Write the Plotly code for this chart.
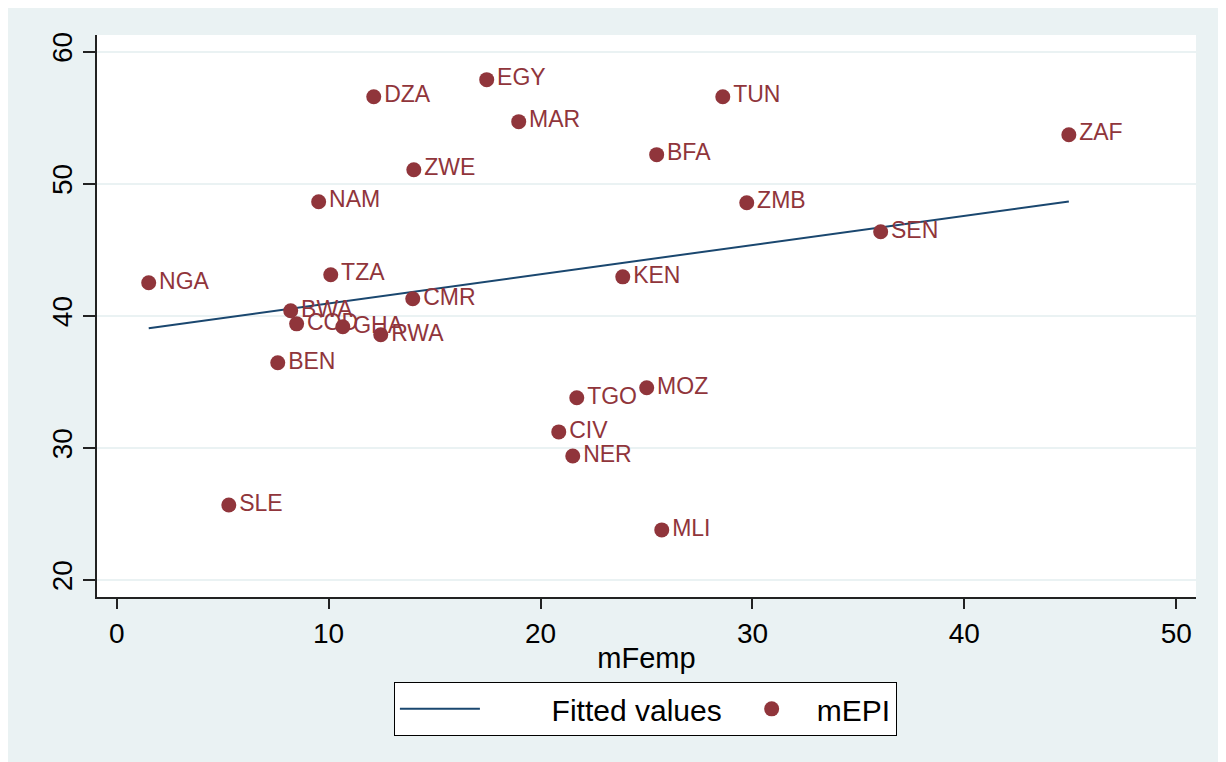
import numpy as np
import plotly.graph_objects as go

countries = ["NGA", "SLE", "BEN", "BWA", "COD", "NAM", "GHA", "TZA", "DZA", "RWA",
             "ZWE", "CMR", "EGY", "MAR", "CIV", "NER", "TGO", "KEN", "MOZ", "BFA",
             "MLI", "TUN", "ZMB", "SEN", "ZAF"]
mFemp = [1.51, 5.29, 7.60, 8.21, 8.49, 9.53, 10.67, 10.10, 12.13, 12.46,
         14.02, 13.97, 17.46, 18.97, 20.86, 21.52, 21.71, 23.88, 25.01, 25.48,
         25.72, 28.60, 29.73, 36.05, 44.93]
mEPI = [42.50, 25.68, 36.44, 40.38, 39.39, 48.64, 39.17, 43.11, 56.59, 38.56,
        51.06, 41.29, 57.88, 54.70, 31.21, 29.39, 33.79, 42.95, 34.55, 52.20,
        23.79, 56.59, 48.56, 46.36, 53.71]
x_ticks = [0, 10, 20, 30, 40, 50]
y_ticks = [20, 30, 40, 50, 60]
legend_names = ["Fitted values", "mEPI"]

NAVY = "#1a476f"
MAROON = "#90353b"
BG = "#eaf2f3"
FONT = "Liberation Sans, Arial, sans-serif"
NBSP = "\u00a0"

xa = np.array(mFemp)
ya = np.array(mEPI)
slope, intercept = np.polyfit(xa, ya, 1)
fit_x = np.array([xa.min(), xa.max()])
fit_y = intercept + slope * fit_x

fig = go.Figure()
fig.add_trace(go.Scatter(
    x=fit_x, y=fit_y, mode="lines", name=NBSP * 8 + legend_names[0],
    line=dict(color=NAVY, width=2),
))
fig.add_trace(go.Scatter(
    x=mFemp, y=mEPI, mode="markers+text", name=legend_names[1],
    text=countries, textposition="middle right",
    textfont=dict(color=MAROON, size=23, family=FONT),
    marker=dict(color=MAROON, size=15, line=dict(width=0)),
))

fig.update_layout(
    width=1226, height=762,
    margin=dict(l=89, r=38, t=27, b=173),
    paper_bgcolor=BG,
    plot_bgcolor="white",
    font=dict(family=FONT, color="black"),
    showlegend=True,
    legend=dict(
        orientation="h", x=0.499, xanchor="center", y=-0.151, yanchor="top",
        bgcolor="white", bordercolor="black", borderwidth=1,
        font=dict(size=30, family=FONT, color="black"),
        itemwidth=80,
    ),
)
fig.update_xaxes(
    range=[-0.93, 50.93], tickvals=x_ticks, ticktext=[str(v) for v in x_ticks],
    showgrid=False, zeroline=False,
    showline=True, linecolor="#222222", linewidth=2,
    ticks="outside", ticklen=10, tickwidth=1.5, tickcolor="#222222",
    tickfont=dict(size=28, family=FONT, color="black"),
    title=dict(text="mFemp", font=dict(size=29, family=FONT, color="black"), standoff=0),
)
fig.update_yaxes(
    range=[18.71, 61.26], tickvals=y_ticks, ticktext=[str(v) for v in y_ticks],
    showgrid=True, gridcolor=BG, gridwidth=2, zeroline=False,
    showline=True, linecolor="#222222", linewidth=2,
    ticks="outside", ticklen=12, tickwidth=1.5, tickcolor="#222222",
    tickangle=-90,
    tickfont=dict(size=28, family=FONT, color="black"),
)

fig.write_html("out.html")
